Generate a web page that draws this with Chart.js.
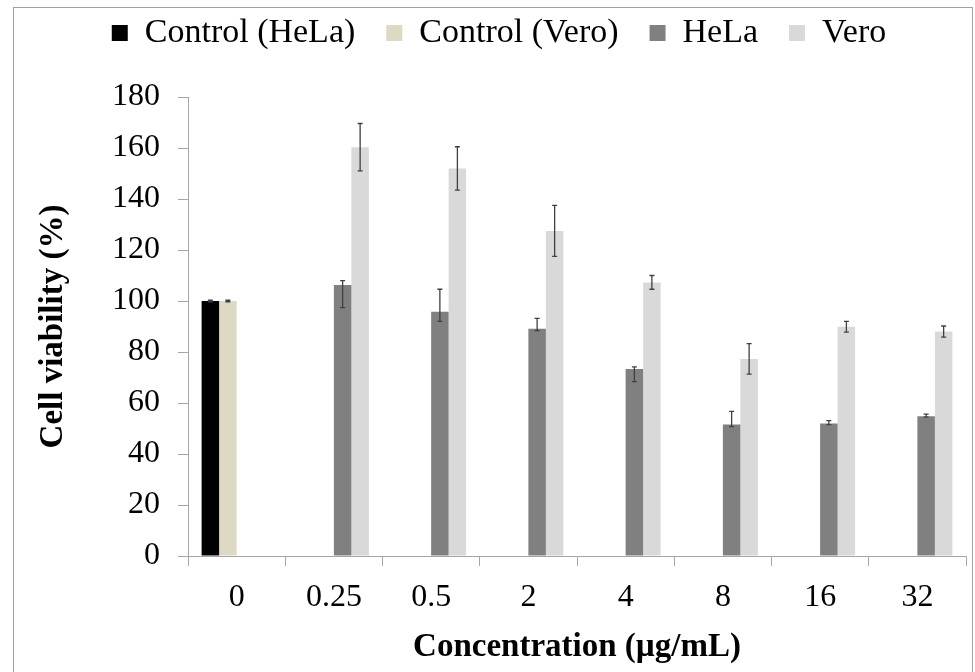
<!DOCTYPE html>
<html>
<head>
<meta charset="utf-8">
<title>Cell viability</title>
<script src="https://cdn.jsdelivr.net/npm/chart.js@4/dist/chart.umd.min.js"></script>
<style>
  html, body { margin: 0; padding: 0; background: #fff; }
  canvas { display: block; }
</style>
</head>
<body>
<canvas id="chart" width="975" height="672"></canvas>
<script>
const CONCENTRATIONS = ["0", "0.25", "0.5", "2", "4", "8", "16", "32"];
const Y_TICKS = [0, 20, 40, 60, 80, 100, 120, 140, 160, 180];

// untreated controls, only at 0 µg/mL
const CONTROL_HELA     = [100, null, null, null, null, null, null, null];
const CONTROL_VERO     = [100, null, null, null, null, null, null, null];
const CONTROL_ERR      = [0.3, null, null, null, null, null, null, null];

const HELA          = [null, 106.3, 95.8, 89.1, 73.3, 51.6, 52.0, 54.8];
const HELA_ERR_UP   = [null, 1.7, 8.8, 4.1, 0.9, 5.1, 1.1, 0.8];
const HELA_ERR_DOWN = [null, 8.9, 3.8, 0.7, 4.9, 0.9, 0.5, 0.3];

const VERO     = [null, 160.3, 152.0, 127.5, 107.3, 77.3, 89.9, 88.0];
const VERO_ERR = [null, 9.3, 8.5, 10.0, 2.7, 6.0, 2.1, 2.2];

const SERIF = "'Liberation Serif', 'Times New Roman', serif";
const AXIS_GRAY = "#a6a6a6";

// legend rows sit high, plot starts lower: pin the legend box height
const LEGEND_H = 112;
const LEGEND_SHIFT = 9;

const legendHeight = {
  id: "legendHeight",
  afterInit(chart) {
    const legend = chart.legend;
    if (!legend) return;
    const fit = legend.fit.bind(legend);
    legend.fit = () => { fit(); legend.height = LEGEND_H; };
  },
  afterLayout(chart) {
    // nudge the centred legend row a bit to the right
    const legend = chart.legend;
    if (!legend) return;
    legend.left += LEGEND_SHIFT;
    legend.right += LEGEND_SHIFT;
  },
};

// thin frame round the whole figure
const frame = {
  id: "frame",
  beforeDraw(chart) {
    const ctx = chart.ctx;
    ctx.save();
    ctx.strokeStyle = "#a0a0a0";
    ctx.lineWidth = 1;
    ctx.strokeRect(13.5, 7.5, 959, 700);
    ctx.restore();
  },
};

// whiskers from errUp / errDown on each dataset
const errorBars = {
  id: "errorBars",
  afterDatasetsDraw(chart) {
    const ctx = chart.ctx;
    const y = chart.scales.y;
    ctx.save();
    ctx.strokeStyle = "#404040";
    ctx.lineWidth = 1.3;
    chart.data.datasets.forEach((ds, i) => {
      if (!ds.errUp) return;
      const meta = chart.getDatasetMeta(i);
      meta.data.forEach((bar, j) => {
        const v = ds.data[j];
        if (v == null || ds.errUp[j] == null) return;
        const yTop = y.getPixelForValue(v + ds.errUp[j]);
        const yBot = y.getPixelForValue(v - ds.errDown[j]);
        const x = bar.x;
        ctx.beginPath();
        ctx.moveTo(x, yTop); ctx.lineTo(x, yBot);
        ctx.moveTo(x - 2.5, yTop); ctx.lineTo(x + 2.5, yTop);
        ctx.moveTo(x - 2.5, yBot); ctx.lineTo(x + 2.5, yBot);
        ctx.stroke();
      });
    });
    ctx.restore();
  },
};

function barSet(label, data, color, up, down) {
  return {
    label,
    data,
    backgroundColor: color,
    borderWidth: 0,
    barPercentage: 1.0,
    categoryPercentage: 0.72,
    errUp: up,
    errDown: down,
  };
}

new Chart(document.getElementById("chart"), {
  type: "bar",
  data: {
    labels: CONCENTRATIONS,
    datasets: [
      barSet("Control (HeLa)", CONTROL_HELA, "#000000", CONTROL_ERR, CONTROL_ERR),
      barSet("Control (Vero)", CONTROL_VERO, "#ddd9c3", CONTROL_ERR, CONTROL_ERR),
      barSet("HeLa", HELA, "#808080", HELA_ERR_UP, HELA_ERR_DOWN),
      barSet("Vero", VERO, "#d9d9d9", VERO_ERR, VERO_ERR),
    ],
  },
  options: {
    responsive: false,
    animation: false,
    layout: { padding: { left: 14, right: 9, top: -15, bottom: 0 } },
    plugins: {
      legend: {
        position: "top",
        labels: {
          color: "#000",
          font: { family: SERIF, size: 34 },
          boxWidth: 16,
          boxHeight: 16,
          padding: 31,
        },
      },
      tooltip: { enabled: false },
    },
    scales: {
      x: {
        grid: {
          offset: true,
          drawOnChartArea: false,
          drawTicks: true,
          tickLength: 10,
          color: AXIS_GRAY,
        },
        border: { color: AXIS_GRAY },
        ticks: {
          color: "#000",
          font: { family: SERIF, size: 32 },
          padding: 12,
          maxRotation: 0,
        },
        title: {
          display: true,
          text: "Concentration (µg/mL)",
          color: "#000",
          font: { family: SERIF, size: 33, weight: "bold" },
          padding: { top: 0, bottom: 5 },
        },
        afterFit(scale) { scale.height = 116; },
      },
      y: {
        min: 0,
        max: 180,
        afterBuildTicks(scale) { scale.ticks = Y_TICKS.map(v => ({ value: v })); },
        grid: {
          drawOnChartArea: false,
          drawTicks: true,
          tickLength: 10,
          color: AXIS_GRAY,
        },
        border: { color: AXIS_GRAY },
        ticks: {
          color: "#000",
          font: { family: SERIF, size: 32 },
          padding: 18,
        },
        title: {
          display: true,
          text: "Cell viability (%)",
          color: "#000",
          font: { family: SERIF, size: 33, weight: "bold" },
          padding: { top: 20, bottom: 0 },
        },
        afterFit(scale) { scale.width = 174; },
      },
    },
  },
  plugins: [legendHeight, frame, errorBars],
});
</script>
</body>
</html>
